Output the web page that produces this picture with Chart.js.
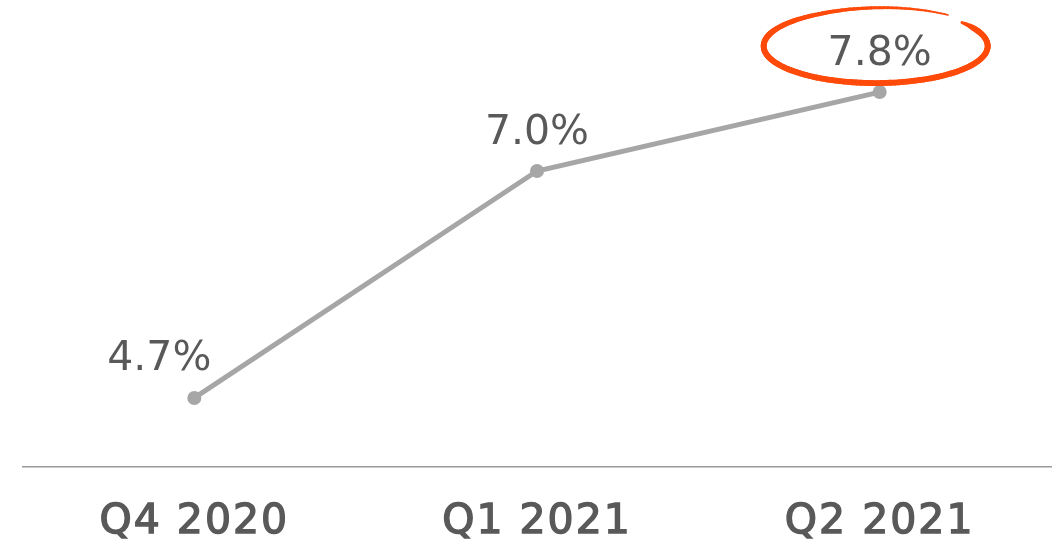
<!DOCTYPE html>
<html>
<head>
<meta charset="utf-8">
<script src="https://cdn.jsdelivr.net/npm/chart.js@4/dist/chart.umd.min.js"></script>
<style>
  html, body { margin: 0; padding: 0; background: #ffffff; }
  #wrap { width: 1058px; height: 540px; position: relative; }
</style>
</head>
<body>
<div id="wrap"><canvas id="c"></canvas></div>
<script>
// Quarterly rate, in percent
const quarters = ['Q4 2020', 'Q1 2021', 'Q2 2021'];
const rates = [4.7, 7.0, 7.8];
const highlightIndex = 2;

const textColor = '#595959';
const lineColor = '#a6a6a6';
const markColor = '#ff4a0a';
const fontFamily = '"DejaVu Sans", "Liberation Sans", sans-serif';

// Slightly wider tracking for the category labels
const tracking = {
  id: 'tracking',
  beforeDraw(chart) { chart.ctx.letterSpacing = '2px'; },
  afterDraw(chart) { chart.ctx.letterSpacing = '0px'; }
};

// Value labels above each point (the first one sits up and to the left)
const valueLabels = {
  id: 'valueLabels',
  afterDatasetsDraw(chart, args, opts) {
    const ctx = chart.ctx;
    const meta = chart.getDatasetMeta(0);
    ctx.save();
    ctx.letterSpacing = '0px';
    ctx.fillStyle = textColor;
    ctx.font = '41px ' + fontFamily;
    ctx.textAlign = 'center';
    ctx.textBaseline = 'alphabetic';
    meta.data.forEach((pt, i) => {
      const off = opts.offsets[i] || opts.offsets[opts.offsets.length - 1];
      const v = chart.data.datasets[0].data[i];
      ctx.fillText(v.toFixed(1) + '%', pt.x + off[0], pt.y + off[1]);
    });
    ctx.restore();
  }
};

// Hand-drawn style ring around the highlighted value
const highlightRing = {
  id: 'highlightRing',
  afterDatasetsDraw(chart, args, opts) {
    const ctx = chart.ctx;
    const pt = chart.getDatasetMeta(0).data[opts.index];
    if (!pt) return;
    const cx = pt.x - 4, cy = pt.y - 46, rx = 112, ry = 37;
    ctx.save();
    ctx.strokeStyle = markColor;
    ctx.lineCap = 'round';
    // one stroke, clockwise from the upper right all the way round
    const start = -0.69, end = -0.69 + Math.PI * 2 - 0.2;
    const steps = 160;
    for (let s = 0; s < steps; s++) {
      const t0 = s / steps, t1 = (s + 1) / steps;
      const a0 = start + (end - start) * t0;
      const a1 = start + (end - start) * t1;
      const grow0 = t0 > 0.8 ? 3 * (t0 - 0.8) / 0.2 : 0;
      const grow1 = t1 > 0.8 ? 3 * (t1 - 0.8) / 0.2 : 0;
      let w = 5.8;
      if (t0 < 0.03) w = 3 + 2.8 * (t0 / 0.03);
      if (t0 > 0.68) w = 5.8 - 4.3 * ((t0 - 0.68) / 0.32);
      ctx.lineWidth = w;
      ctx.beginPath();
      ctx.moveTo(cx + (rx + grow0) * Math.cos(a0), cy + (ry + grow0) * Math.sin(a0));
      ctx.lineTo(cx + (rx + grow1) * Math.cos(a1), cy + (ry + grow1) * Math.sin(a1));
      ctx.stroke();
    }
    ctx.restore();
  }
};

new Chart(document.getElementById('c'), {
  type: 'line',
  data: {
    labels: quarters,
    datasets: [{
      data: rates,
      borderColor: lineColor,
      backgroundColor: lineColor,
      borderWidth: 5,
      pointRadius: 7,
      pointHoverRadius: 7,
      pointBackgroundColor: lineColor,
      pointBorderWidth: 0,
      tension: 0,
      fill: false
    }]
  },
  options: {
    responsive: true,
    maintainAspectRatio: false,
    animation: false,
    events: [],
    layout: { padding: { top: 23, left: 23, right: 5, bottom: 0 } },
    plugins: {
      legend: { display: false },
      tooltip: { enabled: false },
      valueLabels: { offsets: [[-35, -28], [0, -27]] },
      highlightRing: { index: highlightIndex }
    },
    scales: {
      x: {
        offset: true,
        grid: { display: false, drawTicks: false },
        border: { display: true, color: '#9a9a9a', width: 1.5 },
        ticks: {
          color: textColor,
          padding: 31,
          textStrokeColor: textColor,
          textStrokeWidth: 1.4,
          font: { family: fontFamily, size: 41, weight: 'normal' }
        },
        afterFit(scale) { scale.height = 73; }
      },
      y: {
        display: false,
        min: 4,
        max: 8.5
      }
    }
  },
  plugins: [tracking, valueLabels, highlightRing]
});
</script>
</body>
</html>
